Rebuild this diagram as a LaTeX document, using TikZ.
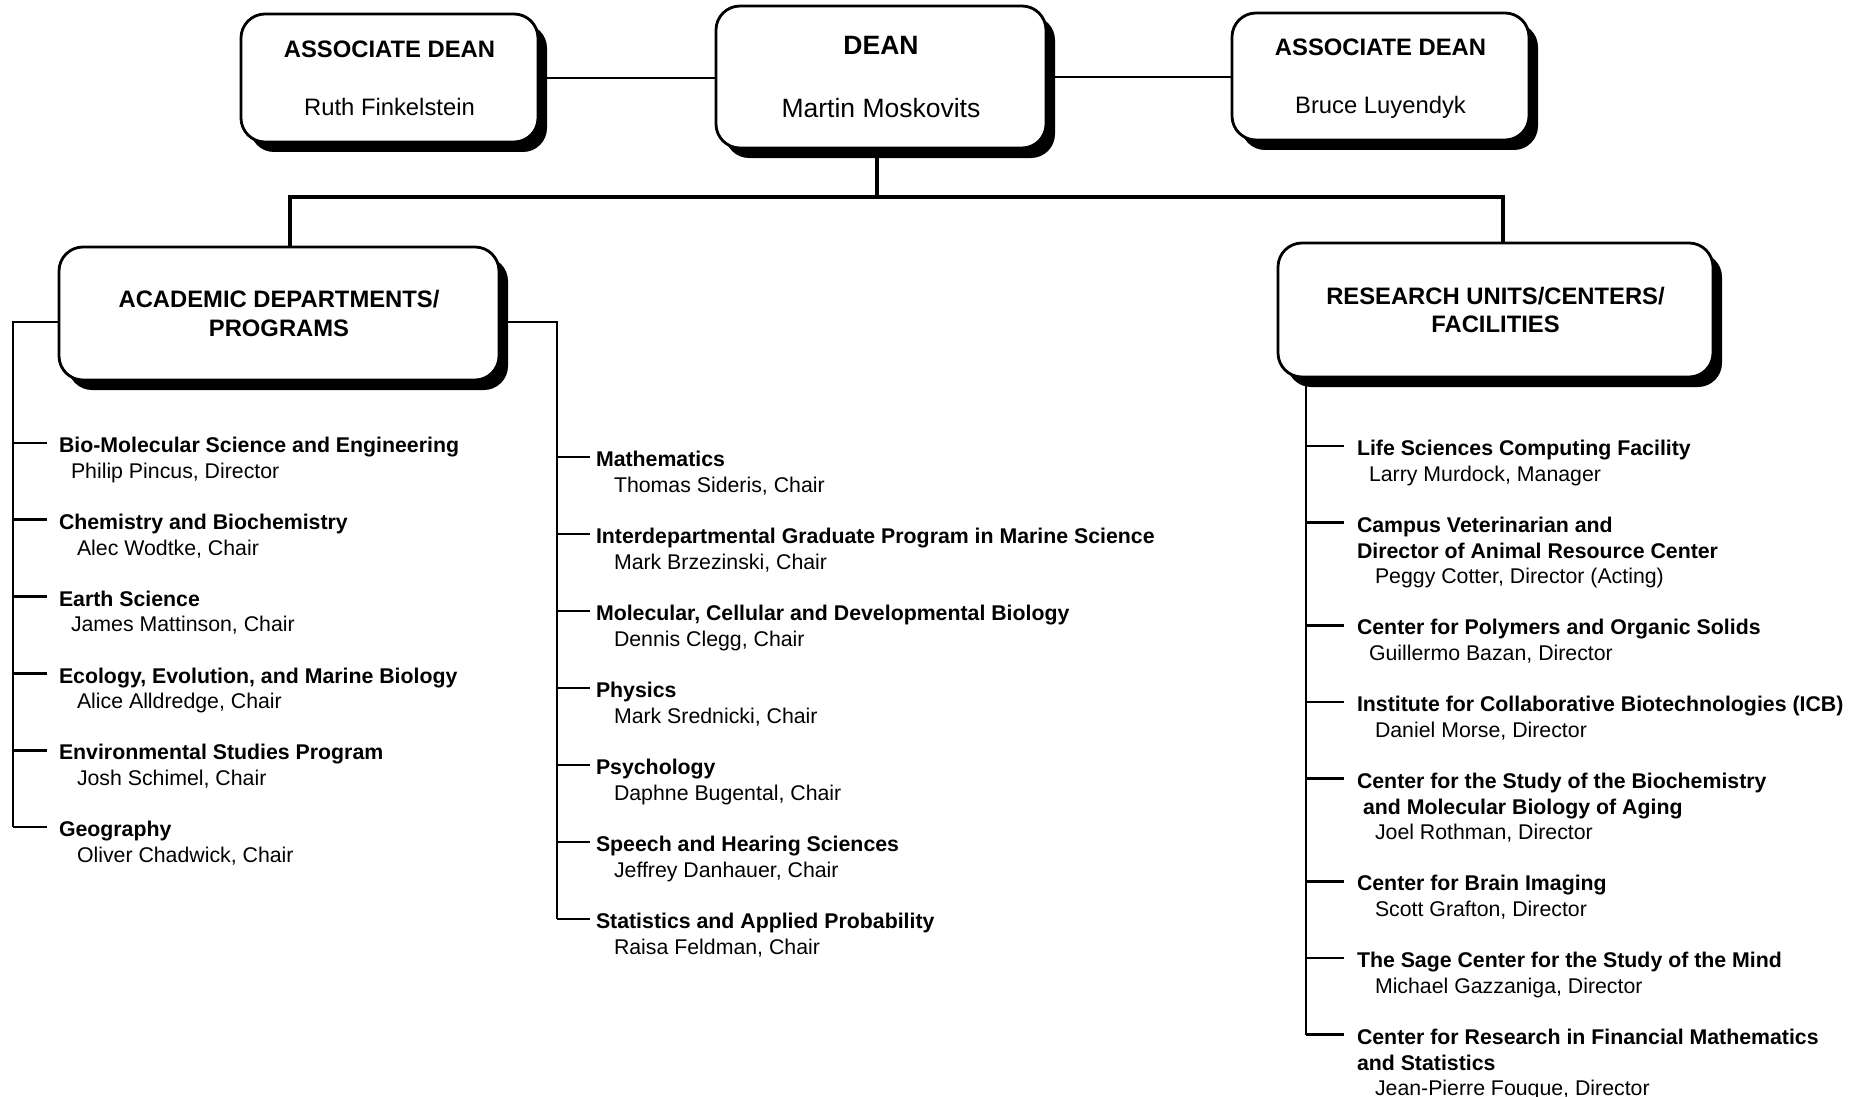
\documentclass[tikz,border=0pt]{standalone}
\usepackage{fontspec}
\setmainfont{Liberation Sans}
\usetikzlibrary{shadows}
\tikzset{
  box/.style={draw, line width=2.8pt, rounded corners=24pt, fill=white,
    inner sep=0pt, outer sep=0pt, align=center,
    general shadow={fill=black, shadow xshift=9pt, shadow yshift=-10pt},
    font=\fontsize{23.8}{28.6}\selectfont},
  link/.style={line width=2.8pt},
  trunk/.style={line width=4.9pt},
  entry/.style={anchor=north west, inner sep=0pt, outer sep=0pt, align=left,
    font=\fontsize{21.3}{25.6}\selectfont},
}
\begin{document}
\begin{tikzpicture}[x=1pt, y=-1pt]
    \useasboundingbox (0,0) rectangle (1863,1097);
    % top row
    \node[box, minimum width=297pt, minimum height=128pt] (adleft) at (389.5,78) {\textbf{ASSOCIATE DEAN}\\[29.4pt]Ruth Finkelstein};
    \node[box, minimum width=330pt, minimum height=142pt, font=\fontsize{26.5}{31.8}\selectfont] (dean) at (881,77) {\textbf{DEAN}\\[31.2pt]Martin Moskovits};
    \node[box, minimum width=297pt, minimum height=127pt, text depth=0pt] (adright) at (1380.5,76.5) {\textbf{ASSOCIATE DEAN}\\[29.4pt]Bruce Luyendyk};
    \draw[link] (adleft.east) -- (adleft.east -| dean.west) ;
    \draw[link] (dean.east) -- (dean.east -| adright.west) ;
    % second row
    \node[box, minimum width=440pt, minimum height=133pt] (acad) at (279,313.5) {\textbf{ACADEMIC DEPARTMENTS/}\\\textbf{PROGRAMS}};
    \node[box, minimum width=435pt, minimum height=134pt] (resu) at (1495.5,310) {\textbf{RESEARCH UNITS/CENTERS/}\\\textbf{FACILITIES}};
    \coordinate (stem) at (877,197) ;
    \coordinate (barL) at (290,197) ;
    \coordinate (barR) at (1503,197) ;
    \draw[trunk] (dean.south -| stem) -- (stem) ;
    \draw[trunk] (acad.north -| barL) -- (barL) -- (barR) -- (resu.north -| barR) ;
    % spines
    \draw[link] ([yshift=-8.5pt]acad.west) -- (13,322) -- (13,827) ;
    \draw[link] ([yshift=-8.5pt]acad.east) -- (557,322) -- (557,919) ;
    \draw[link] (resu.south -| 1306,0) -- (1306,1034.8) ;
    % academic departments, left
    \foreach \ty/\txt [count=\i] in {
        443/{\textbf{Bio-Molecular Science and Engineering}\\\hspace*{12pt}Philip Pincus, Director},
        519.8/{\textbf{Chemistry and Biochemistry}\\\hspace*{18pt}Alec Wodtke, Chair},
        596.6/{\textbf{Earth Science}\\\hspace*{12pt}James Mattinson, Chair},
        673.4/{\textbf{Ecology, Evolution, and Marine Biology}\\\hspace*{18pt}Alice Alldredge, Chair},
        750.2/{\textbf{Environmental Studies Program}\\\hspace*{18pt}Josh Schimel, Chair},
        827/{\textbf{Geography}\\\hspace*{18pt}Oliver Chadwick, Chair}}
    {
      \draw[link] (13,\ty) -- (47,\ty) ;
      \node[entry] (dept\i) at (59,\ty-5.7) {\txt};
    }
    % academic departments, middle
    \foreach \ty/\txt [count=\i] in {
        457/{\textbf{Mathematics}\\\hspace*{18pt}Thomas Sideris, Chair},
        534/{\textbf{Interdepartmental Graduate Program in Marine Science}\\\hspace*{18pt}Mark Brzezinski, Chair},
        611/{\textbf{Molecular, Cellular and Developmental Biology}\\\hspace*{18pt}Dennis Clegg, Chair},
        688/{\textbf{Physics}\\\hspace*{18pt}Mark Srednicki, Chair},
        765/{\textbf{Psychology}\\\hspace*{18pt}Daphne Bugental, Chair},
        842/{\textbf{Speech and Hearing Sciences}\\\hspace*{18pt}Jeffrey Danhauer, Chair},
        919/{\textbf{Statistics and Applied Probability}\\\hspace*{18pt}Raisa Feldman, Chair}}
    {
      \draw[link] (557,\ty) -- (590,\ty) ;
      \node[entry] (prog\i) at (596,\ty-5.7) {\txt};
    }
    % research units, right
    \foreach \ty/\txt [count=\i] in {
        446/{\textbf{Life Sciences Computing Facility}\\\hspace*{12pt}Larry Murdock, Manager},
        522.8/{\textbf{Campus Veterinarian and}\\\textbf{Director of Animal Resource Center}\\\hspace*{18pt}Peggy Cotter, Director (Acting)},
        625.2/{\textbf{Center for Polymers and Organic Solids}\\\hspace*{12pt}Guillermo Bazan, Director},
        702/{\textbf{Institute for Collaborative Biotechnologies (ICB)}\\\hspace*{18pt}Daniel Morse, Director},
        778.8/{\textbf{Center for the Study of the Biochemistry}\\\hspace*{6pt}\textbf{and Molecular Biology of Aging}\\\hspace*{18pt}Joel Rothman, Director},
        881.2/{\textbf{Center for Brain Imaging}\\\hspace*{18pt}Scott Grafton, Director},
        958/{\textbf{The Sage Center for the Study of the Mind}\\\hspace*{18pt}Michael Gazzaniga, Director},
        1034.8/{\textbf{Center for Research in Financial Mathematics}\\\textbf{and Statistics}\\\hspace*{18pt}Jean-Pierre Fouque, Director}}
    {
      \draw[link] (1306,\ty) -- (1344,\ty) ;
      \node[entry] (unit\i) at (1357,\ty-5.7) {\txt};
    }
\end{tikzpicture}
\end{document}
